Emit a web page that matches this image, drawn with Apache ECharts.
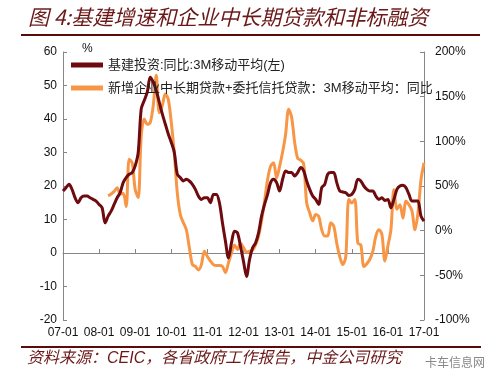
<!DOCTYPE html>
<html><head><meta charset="utf-8">
<script src="https://cdn.jsdelivr.net/npm/echarts@6/dist/echarts.min.js"></script>
<style>html,body{margin:0;padding:0;background:#fff}#c{width:500px;height:389px}</style>
</head><body><div id="c"></div>
<script>
const titleText = "图 4:基建增速和企业中长期贷款和非标融资";
const sourceText = "资料来源：CEIC，各省政府工作报告，中金公司研究";
const watermarkText = "卡车信息网";
const unitText = "%";
const seriesNames = ["基建投资:同比:3M移动平均(左)", "新增企业中长期贷款+委托信托贷款：3M移动平均：同比"];

// monthly categories 2007-01 .. 2017-01
const startYear = 2007, monthCount = 121;
const months = [];
for (let i = 0; i < monthCount; i++) {
  const y = startYear + Math.floor(i / 12), m = i % 12 + 1;
  months.push(String(y % 100).padStart(2, '0') + '-' + String(m).padStart(2, '0'));
}

// 基建投资 同比 3M MA (left axis, %)
const infraYoY = [
  18.5,19.5,20.5,19,16.5,15,16.5,17,17,16.5,16,15.5,
  14.5,13.5,9,11,12.5,14.5,16.5,18,21,22.5,23.5,24,
  26,30,43,45.5,48,52.5,51,48.5,45,41.5,38.5,35.5,
  33,30,23.5,22.5,21.5,22,21.5,20.5,19,17,16,16.5,
  16.5,15,17.5,17.5,15,9,3.5,-1.5,3,6.5,6,2,
  -2.5,-7,-2,1.5,3,6,11,14.5,17.5,21,22,21,
  18.5,22,24.5,24,24,23,24,25.5,24.5,21.5,19,17,
  16,14.5,19.5,20.5,23.5,24,24,21,18.5,18.2,18,17.2,
  17.5,19,22,21.5,20,19,18.5,18.5,17,16,16.5,15.7,
  16,13.5,16,19,20,20.2,19.5,17.5,15.5,15.5,15.5,11,
  9.5
];

// 新增企业中长期贷款+委托信托贷款 3M MA 同比 (right axis, %)
const loanYoY = [
  null,null,null,null,null,null,null,null,null,null,null,null,
  null,null,null,39,41,44,48,41,42,27,80,76,
  46,37,106,125,119,121,140,174,132,140,153,147,
  121,87,42,18,9,1,-19,-38,-40,-44,-38,-23,
  -29,-34,-38,-39,-39,-40,-47,-36,-25,-16,-21,-14,
  -19,-24,-23,-22,-16,-6,11,33,57,72,76,59,
  72,88,108,136,127,99,81,79,75,31,20,11,
  18,16,1,-6,-6,9,5,-14,-29,-38,-29,35,
  31,35,-14,-16,-40,-37,-32,-23,-6,1,-4,-34,
  -17,1,46,24,29,14,33,29,22,1,20,57,
  76
];

const leftMin = -20, leftMax = 60, leftStep = 10;
const rightMin = -100, rightMax = 200, rightStep = 50;

const axisGray = '#868686';
const numFont = '"Liberation Sans", Arial, sans-serif';
const cjkFont = '"Liberation Sans", "Noto Sans CJK SC", sans-serif';
const brand = '#6b1818';

const chart = echarts.init(document.getElementById('c'));
chart.setOption({
  animation: false,
  backgroundColor: '#fff',
  grid: { left: 63, right: 76, top: 52, bottom: 69 },
  legend: {
    orient: 'vertical', left: 66, top: 53,
    itemWidth: 32, itemHeight: 5, itemGap: 9, icon: 'rect',
    textStyle: { fontFamily: cjkFont, fontSize: 13, color: '#222', lineHeight: 14 },
    data: seriesNames
  },
  xAxis: [
    {
      type: 'category', data: months, boundaryGap: false,
      axisLine: { onZero: true, onZeroAxisIndex: 0, lineStyle: { color: axisGray, width: 1 } },
      axisTick: { inside: true, length: 4, interval: 11, lineStyle: { color: axisGray } },
      axisLabel: { show: false }, splitLine: { show: false }
    },
    {
      type: 'category', data: months, boundaryGap: false, position: 'bottom',
      axisLine: { show: false }, axisTick: { show: false },
      axisLabel: { interval: 11, margin: 7, fontFamily: numFont, fontSize: 12, color: '#111' },
      splitLine: { show: false }
    }
  ],
  yAxis: [
    {
      type: 'value', min: leftMin, max: leftMax, interval: leftStep,
      axisLine: { show: true, onZero: false, lineStyle: { color: axisGray } },
      axisTick: { show: true, inside: true, length: 4, lineStyle: { color: axisGray } },
      axisLabel: { margin: 6, fontFamily: numFont, fontSize: 12, color: '#111' },
      splitLine: { show: false }
    },
    {
      type: 'value', min: rightMin, max: rightMax, interval: rightStep, position: 'right',
      axisLine: { show: true, onZero: false, lineStyle: { color: axisGray } },
      axisTick: { show: true, inside: true, length: 4, lineStyle: { color: axisGray } },
      axisLabel: { margin: 11, formatter: '{value}%', fontFamily: numFont, fontSize: 12, color: '#111' },
      splitLine: { show: false }
    }
  ],
  series: [
    {
      name: seriesNames[0], type: 'line', data: infraYoY, xAxisIndex: 0, yAxisIndex: 0,
      showSymbol: false, smooth: 0.3, z: 3,
      lineStyle: { color: '#6e0b0f', width: 3 }, itemStyle: { color: '#6e0b0f' }
    },
    {
      name: seriesNames[1], type: 'line', data: loanYoY, xAxisIndex: 0, yAxisIndex: 1,
      showSymbol: false, smooth: 0.3, z: 2,
      lineStyle: { color: '#f79646', width: 3 }, itemStyle: { color: '#f79646' }
    }
  ],
  graphic: [
    { type: 'text', left: 28, top: 7, style: { text: titleText, font: 'italic 21px "Noto Sans CJK SC", sans-serif', fill: brand } },
    { type: 'line', shape: { x1: 21, y1: 35, x2: 480, y2: 35 }, style: { stroke: '#5a0c0c', lineWidth: 2 } },
    { type: 'line', shape: { x1: 21, y1: 347, x2: 481, y2: 347 }, style: { stroke: '#5a0c0c', lineWidth: 2 } },
    { type: 'text', left: 27, top: 351, style: { text: sourceText, font: 'italic 16px "Liberation Sans", "Noto Sans CJK SC", sans-serif', fill: brand } },
    { type: 'text', left: 425, top: 356, style: { text: watermarkText, font: '12px "Noto Sans CJK SC", sans-serif', fill: '#888' } },
    { type: 'text', left: 82, top: 43, style: { text: unitText, font: '12px ' + numFont, fill: '#111' } }
  ]
});
</script>
</body></html>
